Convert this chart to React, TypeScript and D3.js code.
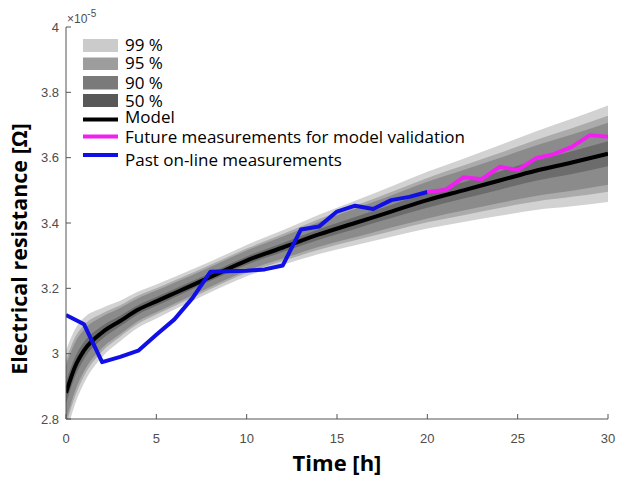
import React from "react";
import * as d3 from "d3";

// ---- data (resistance in units of 1e-5 Ω) ----
const modelT = [0, 0.5, 1, 2, 3, 4, 5, 6, 8, 10, 12, 14, 16, 18, 20, 22, 24, 26, 28, 30];
const modelR = [2.88, 2.96, 3.01, 3.065, 3.1, 3.135, 3.16, 3.185, 3.235, 3.285, 3.325, 3.365, 3.4, 3.435, 3.47, 3.5, 3.53, 3.56, 3.585, 3.612];
const half99 = [0.13, 0.115, 0.1, 0.075, 0.062, 0.055, 0.052, 0.05, 0.047, 0.048, 0.053, 0.06, 0.068, 0.077, 0.087, 0.097, 0.108, 0.12, 0.134, 0.148];
const half95 = [0.1, 0.09, 0.078, 0.058, 0.048, 0.043, 0.04, 0.039, 0.037, 0.037, 0.041, 0.047, 0.053, 0.06, 0.068, 0.076, 0.084, 0.094, 0.105, 0.116];
const half90 = [0.084, 0.074, 0.064, 0.048, 0.04, 0.035, 0.033, 0.032, 0.03, 0.031, 0.034, 0.038, 0.044, 0.049, 0.056, 0.062, 0.069, 0.077, 0.086, 0.095];
const half50 = [0.034, 0.03, 0.026, 0.02, 0.016, 0.014, 0.0135, 0.013, 0.012, 0.0125, 0.014, 0.016, 0.018, 0.02, 0.023, 0.025, 0.028, 0.031, 0.035, 0.038];

const pastT = [0, 1, 2, 3, 4, 5, 6, 7, 8, 9, 10, 11, 12, 13, 14, 15, 16, 17, 18, 19, 20];
const pastR = [3.118, 3.09, 2.974, 2.99, 3.009, 3.058, 3.105, 3.17, 3.251, 3.252, 3.254, 3.258, 3.27, 3.38, 3.389, 3.435, 3.453, 3.443, 3.47, 3.48, 3.495];

const futureT = [20, 21, 22, 23, 24, 25, 26, 27, 28, 29, 30];
const futureR = [3.495, 3.501, 3.54, 3.534, 3.572, 3.562, 3.598, 3.611, 3.633, 3.669, 3.664];

const xTicks = [0, 5, 10, 15, 20, 25, 30];
const yTicks = [2.8, 3, 3.2, 3.4, 3.6, 3.8, 4];

const bandLabels = ["99 %", "95 %", "90 %", "50 %"];
const lineLabels = ["Model", "Future measurements for model validation", "Past on-line measurements"];

// ---- styles ----
const W = 617, H = 479;
const left = 66, right = 608, top = 27, bottom = 419;
const bandFill = ["#d2d2d2", "#ababab", "#8b8b8b", "#6c6c6c"];
const legendFill = ["#cbcbcb", "#9d9d9d", "#7a7a7a", "#585858"];
const lineColors = ["#000000", "#f020f0", "#1010e6"];
const axisColor = "#555";

export default function App() {
  const x = d3.scaleLinear().domain([0, 30]).range([left, right]);
  const y = d3.scaleLinear().domain([2.8, 4]).range([bottom, top]);

  const halves = [half99, half95, half90, half50];
  const areas = halves.map((h) =>
    d3
      .area<number>()
      .x((_, i) => x(modelT[i]))
      .y0((_, i) => y(modelR[i] - h[i]))
      .y1((_, i) => y(modelR[i] + h[i]))
      .curve(d3.curveMonotoneX)(modelT)
  );

  const line = (ts: number[], rs: number[], curve: any) =>
    d3
      .line<number>()
      .x((_, i) => x(ts[i]))
      .y((_, i) => y(rs[i]))
      .curve(curve)(ts);

  const tickFont = "'Liberation Sans', Arial, sans-serif";
  const legFont = "'Open Sans', sans-serif";

  const bandRows = [
    { y0: 39, y1: 52, ty: 50.5 },
    { y0: 57.5, y1: 70, ty: 69 },
    { y0: 76, y1: 89.5, ty: 88.5 },
    { y0: 94, y1: 107, ty: 106.5 },
  ];
  const lineRows = [
    { ly: 119.5, ty: 122.5 },
    { ly: 136.5, ty: 143 },
    { ly: 155, ty: 166 },
  ];

  return (
    <svg
      width={W}
      height={H}
      style={{ position: "absolute", left: 0, top: 0, background: "#fff" }}
    >
      <defs>
        <clipPath id="plotClip">
          <rect x={left} y={top} width={right - left} height={bottom - top} />
        </clipPath>
      </defs>
      <rect x={0} y={0} width={W} height={H} fill="#fff" />
      <g clipPath="url(#plotClip)">
        {areas.map((d, i) => (
          <path key={i} d={d || ""} fill={bandFill[i]} stroke="none" />
        ))}
        <path d={line(modelT, modelR, d3.curveMonotoneX) || ""} fill="none" stroke={lineColors[0]} strokeWidth={4} />
        <path d={line(pastT, pastR, d3.curveLinear) || ""} fill="none" stroke={lineColors[2]} strokeWidth={4} strokeLinejoin="round" />
        <path d={line(futureT, futureR, d3.curveLinear) || ""} fill="none" stroke={lineColors[1]} strokeWidth={4} strokeLinejoin="round" />
      </g>

      {/* axes */}
      <line x1={left} x2={left} y1={top} y2={bottom} stroke={axisColor} strokeWidth={1} />
      <line x1={left} x2={right} y1={bottom} y2={bottom} stroke={axisColor} strokeWidth={1} />
      {yTicks.map((t) => (
        <g key={"y" + t}>
          <line x1={left} x2={left + 5} y1={y(t)} y2={y(t)} stroke={axisColor} />
          <text x={left - 7} y={y(t)} dy="0.35em" textAnchor="end" fontFamily={tickFont} fontSize={13} fill="#4d4d4d">
            {t === 3 || t === 4 ? String(t) : t.toFixed(1)}
          </text>
        </g>
      ))}
      {xTicks.map((t) => (
        <g key={"x" + t}>
          <line x1={x(t)} x2={x(t)} y1={bottom} y2={bottom - 5} stroke={axisColor} />
          <text x={x(t)} y={bottom + 24} textAnchor="middle" fontFamily={tickFont} fontSize={13} fill="#4d4d4d">
            {t}
          </text>
        </g>
      ))}
      <text x={67} y={23} fontFamily={tickFont} fontSize={12} fill="#4d4d4d">
        ×10
        <tspan dy={-6} fontSize={10}>-5</tspan>
      </text>

      {/* axis titles */}
      <text x={337} y={471} textAnchor="middle" fontFamily={legFont} fontWeight="bold" fontSize={22} fill="#000">
        Time [h]
      </text>
      <text
        transform={`translate(27, 249) rotate(-90)`}
        textAnchor="middle"
        fontFamily={legFont}
        fontWeight="bold"
        fontSize={21.5}
        fill="#000"
      >
        Electrical resistance [Ω]
      </text>

      {/* legend */}
      {bandLabels.map((lab, i) => (
        <g key={lab}>
          <rect x={83} y={bandRows[i].y0} width={35} height={bandRows[i].y1 - bandRows[i].y0} fill={legendFill[i]} />
          <text x={125} y={bandRows[i].ty} fontFamily={legFont} fontSize={17} fill="#000">
            {lab}
          </text>
        </g>
      ))}
      {lineLabels.map((lab, i) => (
        <g key={lab}>
          <line x1={83} x2={118} y1={lineRows[i].ly} y2={lineRows[i].ly} stroke={lineColors[i]} strokeWidth={4} />
          <text x={125} y={lineRows[i].ty} fontFamily={legFont} fontSize={17} fill="#000">
            {lab}
          </text>
        </g>
      ))}
    </svg>
  );
}
